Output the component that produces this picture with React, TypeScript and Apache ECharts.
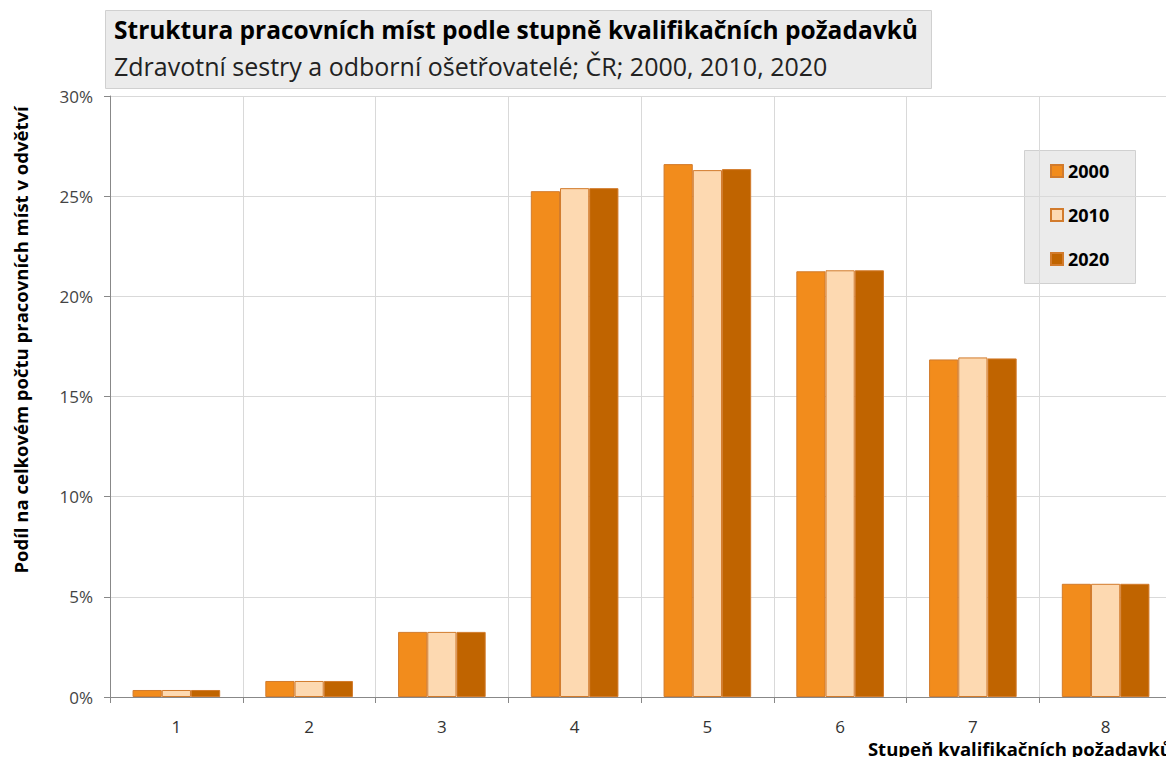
import React, { useEffect, useRef } from "react";
import * as echarts from "echarts";

const categories = ["1", "2", "3", "4", "5", "6", "7", "8"];
const seriesNames = ["2000", "2010", "2020"];
const values2000 = [0.35, 0.8, 3.25, 25.25, 26.6, 21.25, 16.85, 5.65];
const values2010 = [0.35, 0.8, 3.25, 25.4, 26.3, 21.3, 16.95, 5.65];
const values2020 = [0.35, 0.8, 3.25, 25.4, 26.35, 21.3, 16.9, 5.65];
const yTicks = [0, 5, 10, 15, 20, 25, 30];

const colors = ["#F28C1C", "#FDD9B1", "#C06400"];
const FONT = "Open Sans";

export default function App() {
  const ref = useRef<HTMLDivElement>(null);
  useEffect(() => {
    if (!ref.current) return;
    const chart = echarts.init(ref.current, undefined, { renderer: "svg" });
    const allValues = [values2000, values2010, values2020];
    chart.setOption({
      animation: false,
      textStyle: { fontFamily: FONT },
      grid: { left: 110, right: 2, top: 96, bottom: 68, containLabel: false },
      legend: {
        orient: "vertical",
        left: 1045,
        top: 157,
        itemWidth: 12,
        itemHeight: 12,
        itemGap: 26,
        icon: "rect",
        data: seriesNames,
        textStyle: { fontFamily: FONT, fontWeight: "bold", fontSize: 18, color: "#000" },
      },
      xAxis: {
        type: "category",
        data: categories,
        axisLine: { lineStyle: { color: "#888", width: 1 } },
        axisTick: { show: true, length: 6, lineStyle: { color: "#888" } },
        axisLabel: { fontFamily: FONT, fontSize: 17, color: "#333", margin: 21 },
        splitLine: { show: true, lineStyle: { color: "#D9D9D9", width: 1 } },
      },
      yAxis: {
        type: "value",
        min: 0,
        max: 30,
        interval: 5,
        axisLine: { show: true, lineStyle: { color: "#888" } },
        axisTick: { show: true, length: 6, lineStyle: { color: "#888" } },
        axisLabel: {
          fontFamily: FONT,
          fontSize: 17,
          color: "#444",
          margin: 17,
          formatter: (v: number) => (yTicks.includes(v) ? v + "%" : ""),
        },
        splitLine: { show: true, lineStyle: { color: "#D9D9D9", width: 1 } },
      },
      series: seriesNames.map((name, i) => ({
        name,
        type: "bar",
        data: allValues[i],
        barGap: "0%",
        barCategoryGap: "34%",
        itemStyle: { color: colors[i], borderColor: "#D27B2C", borderWidth: 1 },
      })),
      graphic: [
        {
          type: "rect",
          left: 1024,
          top: 150,
          shape: { width: 111, height: 133 },
          style: { fill: "#EBEBEB", stroke: "#D0D0D0", lineWidth: 1 },
          z: -1,
          silent: true,
        },
        {
          type: "rect",
          left: 105,
          top: 10,
          shape: { width: 826, height: 78 },
          style: { fill: "#EBEBEB", stroke: "#D0D0D0", lineWidth: 1 },
          z: 10,
        },
        {
          type: "text",
          left: 114,
          top: 17,
          z: 11,
          style: {
            text: "Struktura pracovních míst podle stupně kvalifikačních požadavků",
            fontFamily: FONT,
            fontWeight: "bold",
            fontSize: 24.5,
            fill: "#000",
          },
        },
        {
          type: "text",
          left: 114,
          top: 53,
          z: 11,
          style: {
            text: "Zdravotní sestry a odborní ošetřovatelé; ČR; 2000, 2010, 2020",
            fontFamily: FONT,
            fontSize: 25,
            fill: "#222",
          },
        },
        {
          type: "text",
          x: 20,
          y: 340,
          rotation: Math.PI / 2,
          style: {
            text: "Podíl na celkovém počtu pracovních míst v odvětví",
            fontFamily: FONT,
            fontWeight: "bold",
            fontSize: 18.5,
            fill: "#000",
            align: "center",
            verticalAlign: "middle",
          },
        },
        {
          type: "text",
          right: 2,
          top: 739,
          style: {
            text: "Stupeň kvalifikačních požadavků",
            fontFamily: FONT,
            fontWeight: "bold",
            fontSize: 18.5,
            fill: "#000",
          },
        },
      ],
    });
    return () => chart.dispose();
  }, []);
  return <div ref={ref} style={{ width: 1174, height: 765, margin: -8 }} />;
}
